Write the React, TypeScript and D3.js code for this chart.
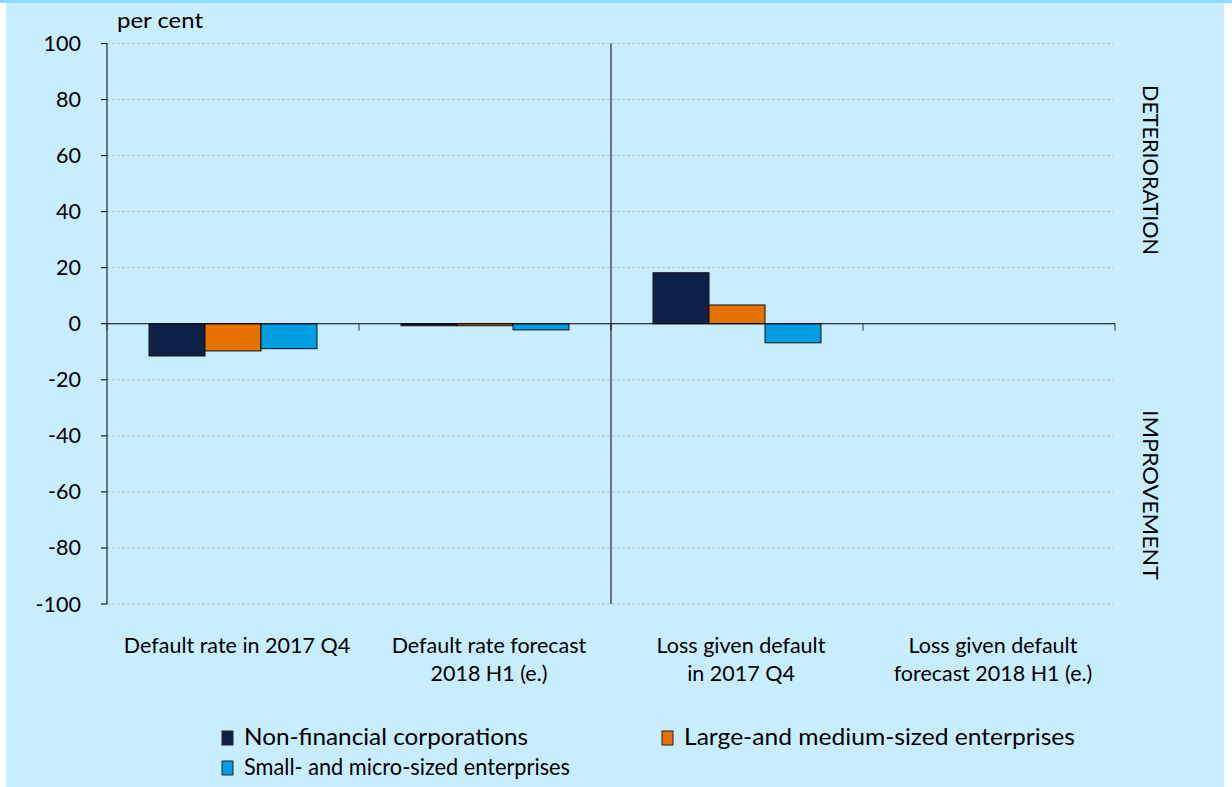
import React from "react";
import * as d3 from "d3";

const categories = [
  ["Default rate in 2017 Q4"],
  ["Default rate forecast", "2018 H1 (e.)"],
  ["Loss given default", "in 2017 Q4"],
  ["Loss given default", "forecast 2018 H1 (e.)"],
];
const seriesNames = [
  "Non-financial corporations",
  "Large-and medium-sized enterprises",
  "Small- and micro-sized enterprises",
];
const seriesColors = ["#0e2249", "#e67300", "#009fe3"];
const nonFinancial = [-11.5, -0.7, 18.2, 0];
const largeMedium = [-9.7, -0.7, 6.7, 0];
const smallMicro = [-8.9, -2.2, -6.8, 0];
const yTicks = [100, 80, 60, 40, 20, 0, -20, -40, -60, -80, -100];

const series = [nonFinancial, largeMedium, smallMicro];
const FONT = "Lato, 'Open Sans', sans-serif";

export default function App() {
  const W = 1232, H = 787;
  const left = 107, right = 1115, top = 43.5, bottom = 604;
  const x = d3.scaleBand<number>().domain(d3.range(categories.length)).range([left, right]).paddingInner(0).paddingOuter(0);
  const y = d3.scaleLinear().domain([-100, 100]).range([bottom, top]);
  const inner = d3.scaleBand<number>().domain([0, 1, 2]).range([0, x.bandwidth()]).paddingOuter(0.75).paddingInner(0);
  const y0 = y(0);

  const legendItems = [
    { i: 0, sx: 222, ty: 745, len: 284 },
    { i: 1, sx: 662, ty: 745, len: 391 },
    { i: 2, sx: 222, ty: 775, len: 326 },
  ];

  return (
    <svg width={W} height={H} style={{ position: "absolute", left: 0, top: 0, display: "block" }}>
      <rect x={0} y={0} width={W} height={H} fill="#ffffff" />
      <rect x={6} y={0} width={1218} height={H} fill="#c7edfe" />
      <rect x={0} y={0} width={W} height={3} fill="#8fdbff" />
      {/* gridlines */}
      {yTicks.filter((t) => t !== 0).map((t) => (
        <line key={t} x1={left} x2={right - 2} y1={y(t)} y2={y(t)} stroke="#bdbdbd" strokeWidth={1} strokeDasharray="3,2" />
      ))}
      {/* bars */}
      {series.map((vals, si) =>
        vals.map((v, ci) => {
          if (v === 0) return null;
          const bx = (x(ci) as number) + (inner(si) as number);
          const yy = Math.min(y(v), y0);
          const hh = Math.abs(y(v) - y0);
          return (
            <rect key={`${si}-${ci}`} x={bx} y={yy} width={inner.bandwidth()} height={hh}
              fill={seriesColors[si]} stroke="#111" strokeWidth={1} />
          );
        })
      )}
      {/* y axis */}
      <line x1={left} x2={left} y1={top} y2={bottom} stroke="#000" strokeWidth={1} />
      {yTicks.map((t) => (
        <g key={t}>
          <line x1={left - 6} x2={left} y1={y(t)} y2={y(t)} stroke="#000" strokeWidth={1} />
          <text x={81} y={y(t)} dy="0.35em" textAnchor="end" fontFamily={FONT} fontSize={21.5} fill="#000">{t}</text>
        </g>
      ))}
      {/* x axis at zero */}
      <line x1={left} x2={right} y1={y0} y2={y0} stroke="#000" strokeWidth={1.2} />
      {d3.range(categories.length + 1).map((i) => {
        const xx = i < categories.length ? (x(i) as number) : right;
        return <line key={i} x1={xx} x2={xx} y1={y0} y2={y0 + 7} stroke="#333" strokeWidth={1} />;
      })}
      {/* vertical divider */}
      <line x1={x(2) as number} x2={x(2) as number} y1={top} y2={bottom} stroke="#000" strokeWidth={1} />
      {/* category labels */}
      {categories.map((lines, ci) => {
        const cx = (x(ci) as number) + x.bandwidth() / 2 + 4;
        return (
          <text key={ci} x={cx} y={653} textAnchor="middle" fontFamily={FONT} fontSize={21.5} fill="#000">
            {lines.map((l, li) => (
              <tspan key={li} x={cx} dy={li === 0 ? 0 : 28}>{l}</tspan>
            ))}
          </text>
        );
      })}
      {/* unit */}
      <text x={117} y={28} fontFamily={FONT} fontSize={22} textLength={86} lengthAdjust="spacingAndGlyphs" fill="#000">per cent</text>
      {/* side labels */}
      <text transform={`translate(1143,170) rotate(90)`} textAnchor="middle" fontFamily={FONT} fontSize={22} textLength={170} lengthAdjust="spacingAndGlyphs" fill="#000">DETERIORATION</text>
      <text transform={`translate(1143,495) rotate(90)`} textAnchor="middle" fontFamily={FONT} fontSize={22} textLength={170} lengthAdjust="spacingAndGlyphs" fill="#000">IMPROVEMENT</text>
      {/* legend */}
      {legendItems.map(({ i, sx, ty, len }) => (
        <g key={i}>
          <rect x={sx} y={ty - 14} width={11} height={14} fill={seriesColors[i]} stroke="#222" strokeWidth={1} />
          <text x={sx + 22} y={ty} fontFamily={FONT} fontSize={22.5} textLength={len} lengthAdjust="spacingAndGlyphs" fill="#000">{seriesNames[i]}</text>
        </g>
      ))}
    </svg>
  );
}
